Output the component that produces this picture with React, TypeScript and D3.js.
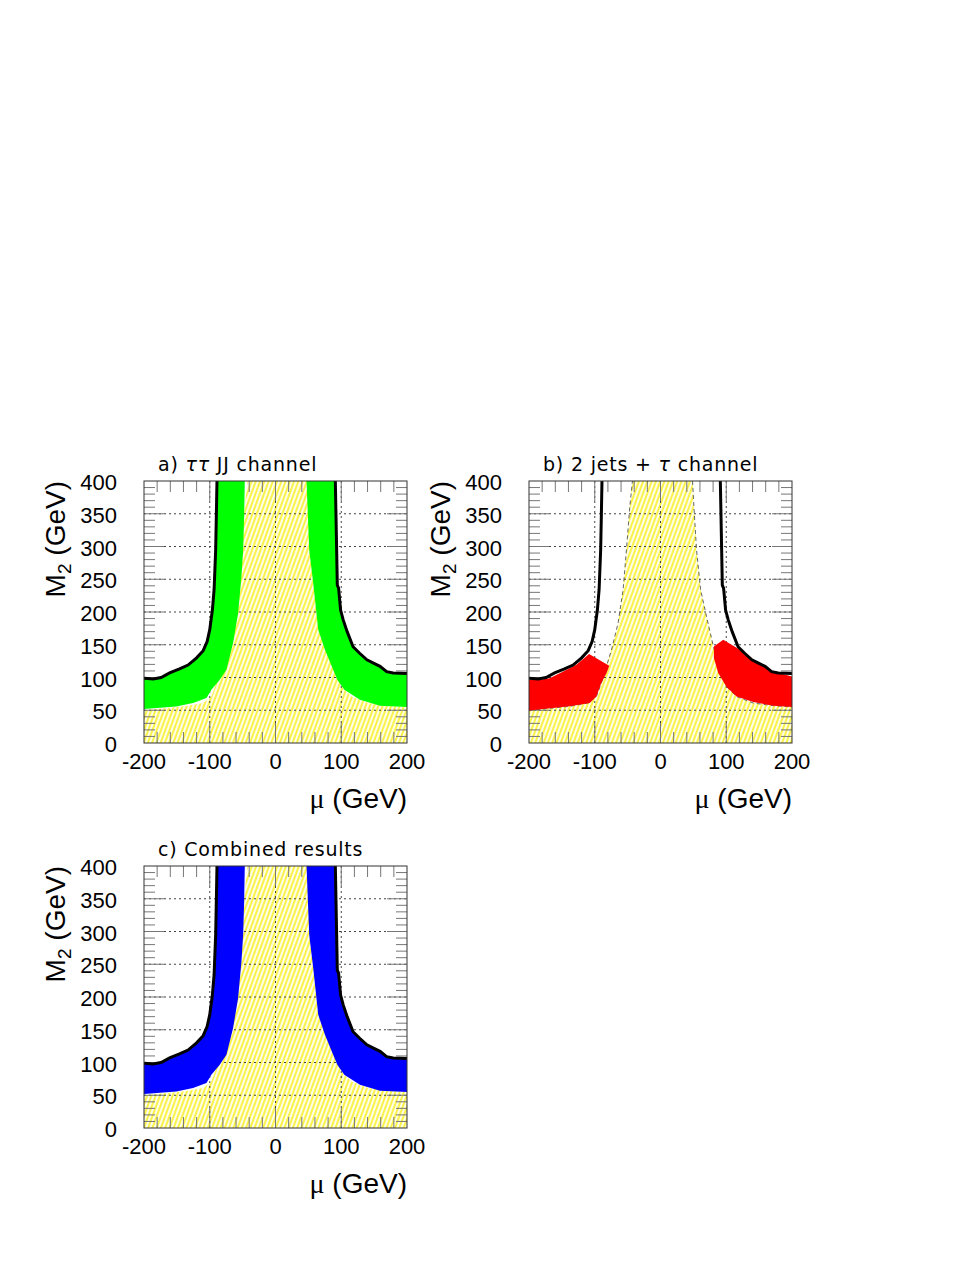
import React from "react";
import * as d3 from "d3";

// axis ranges and tick labels
const muRange: [number, number] = [-200, 200];
const m2Range: [number, number] = [0, 400];
const muLabels = [-200, -100, 0, 100, 200];
const m2Labels = [0, 50, 100, 150, 200, 250, 300, 350, 400];

// black contour (mu, M2)
const contourLeft: [number, number][] = [
  [-200, 99], [-186, 97.6], [-174, 100], [-161, 107], [-146, 113], [-133, 119],
  [-120, 130], [-110, 141], [-104, 155], [-100, 173], [-96, 203], [-93.4, 234],
  [-91, 295], [-90, 346], [-89, 400],
];
const contourRight: [number, number][] = [
  [91, 400], [93, 295], [94, 241], [96, 236], [99, 203], [103, 188], [109, 170],
  [118, 147], [128, 137], [139, 127], [149, 122], [159, 117], [169, 109],
  [179, 107], [200, 106],
];

// inner edge of the excluded band (panels a and c), top -> bottom
const bandInnerLeft: [number, number][] = [
  [-46.7, 400], [-47.7, 345.6], [-49.2, 294.8], [-51.8, 254], [-56.9, 198],
  [-64.5, 152.5], [-74.6, 111.8], [-84.8, 96.6], [-97.5, 81.3], [-105, 68.6],
  [-125.4, 61], [-150.8, 55.9], [-200, 51.8],
];
const bandInnerRight: [number, number][] = [
  [47.2, 400], [51.3, 294.8], [57.4, 244], [65, 172.8], [75.2, 142.3],
  [94, 96.6], [104.6, 81.3], [128.4, 66], [158.9, 57], [200, 55],
];

// LEP1 hatched region boundary
const lepLeft: [number, number][] = [
  [-200, 50], [-138, 56], [-110, 61], [-97.5, 71], [-90, 91.5], [-82.2, 117],
  [-74.6, 142], [-64.5, 183], [-56.9, 234], [-51.8, 295], [-46.7, 361], [-42.6, 400],
];
const lepRight: [number, number][] = [
  [48.7, 400], [50.8, 361], [54.8, 295], [61, 234], [70, 193], [80.6, 147],
  [90.4, 112], [100.5, 86], [115.7, 71], [141, 61], [171.6, 57], [200, 55],
];

// 2 jets + tau excluded pieces
const jetsLeft: [number, number][] = [
  [-200, 96.6], [-183.8, 96.6], [-168.5, 99], [-148, 109], [-128, 119.4],
  [-108.6, 136], [-78, 118], [-82, 106.7], [-90, 91.5], [-97.5, 71],
  [-107.6, 61], [-138, 56], [-200, 49.8],
];
const jetsRight: [number, number][] = [
  [81.2, 147.4], [95.4, 157.6], [120.8, 142.3], [146.2, 122], [171.6, 109.3],
  [200, 101.7], [200, 55], [171.6, 57], [141.1, 62.5], [115.7, 71],
  [100.5, 85.4], [87.8, 106.7], [81.2, 129.6],
];

const W = 263;
const H = 262;
const axisFont = "'Liberation Sans', Arial, sans-serif";
const titleFont = "'DejaVu Sans', sans-serif";

type PanelProps = {
  id: string;
  x0: number;
  y0: number;
  title: React.ReactNode;
  fill: string;
  bands: [number, number][][];
  dashedLep?: boolean;
};

function Panel({ id, x0, y0, title, fill, bands, dashedLep }: PanelProps) {
  const x = d3.scaleLinear().domain(muRange).range([x0, x0 + W]);
  const y = d3.scaleLinear().domain(m2Range).range([y0 + H, y0]);
  const line = d3.line<[number, number]>().x((d) => x(d[0])).y((d) => y(d[1]));
  const poly = (pts: [number, number][]) => line(pts) + "Z";

  const lep: [number, number][] = [[-200, 0], ...lepLeft, ...lepRight, [200, 0]];

  const muMinor = d3.range(-180, 200, 20);
  const m2Minor = d3.range(10, 400, 10);
  const tickCol = "#777";

  return (
    <g>
      <defs>
        <clipPath id={"clip-" + id}>
          <rect x={x0} y={y0} width={W} height={H} />
        </clipPath>
      </defs>
      <g clipPath={`url(#clip-${id})`}>
        <path d={poly(lep)} fill="url(#hatch)" />
        {[-100, 0, 100].map((v) => (
          <line key={"gx" + v} x1={x(v)} x2={x(v)} y1={y0} y2={y0 + H}
            stroke="#444" strokeDasharray="2,3" />
        ))}
        {d3.range(50, 400, 50).map((v) => (
          <line key={"gy" + v} x1={x0} x2={x0 + W} y1={y(v)} y2={y(v)}
            stroke="#444" strokeDasharray="2,3" />
        ))}
        {muMinor.map((v) => {
          const len = v % 100 === 0 ? 20 : 11;
          return (
            <g key={"tx" + v} stroke={tickCol}>
              <line x1={x(v)} x2={x(v)} y1={y0} y2={y0 + len} />
              <line x1={x(v)} x2={x(v)} y1={y0 + H} y2={y0 + H - len} />
            </g>
          );
        })}
        {m2Minor.map((v) => {
          const len = v % 50 === 0 ? 20 : 11;
          return (
            <g key={"ty" + v} stroke={tickCol}>
              <line x1={x0} x2={x0 + len} y1={y(v)} y2={y(v)} />
              <line x1={x0 + W} x2={x0 + W - len} y1={y(v)} y2={y(v)} />
            </g>
          );
        })}
        {dashedLep && (
          <g fill="none" stroke="#555" strokeWidth={0.9} strokeDasharray="4,3">
            <path d={line(lepLeft)!} />
            <path d={line(lepRight)!} />
          </g>
        )}
        {bands.map((b, i) => (
          <path key={i} d={poly(b)} fill={fill} />
        ))}
        <path d={line(contourLeft)!} fill="none" stroke="#000" strokeWidth={3} />
        <path d={line(contourRight)!} fill="none" stroke="#000" strokeWidth={3} />
      </g>
      <rect x={x0} y={y0} width={W} height={H} fill="none" stroke="#333" strokeWidth={1} />

      <text x={x0 + 14} y={y0 - 10} fontFamily={titleFont} fontSize={19}
        letterSpacing={0.8} fill="#000">
        {title}
      </text>

      {m2Labels.map((v) => (
        <text key={"ly" + v} x={x0 - 27} y={y(v) + 9} textAnchor="end"
          fontFamily={axisFont} fontSize={22}>{v}</text>
      ))}
      {muLabels.map((v) => (
        <text key={"lx" + v} x={x(v)} y={y0 + H + 26} textAnchor="middle"
          fontFamily={axisFont} fontSize={22}>{v}</text>
      ))}
      <text x={x0 + W} y={y0 + H + 65} textAnchor="end" fontFamily={axisFont} fontSize={28}>
        <tspan fontFamily="'Liberation Serif', serif">μ</tspan> (GeV)
      </text>
      <text transform={`translate(${x0 - 79},${y0}) rotate(-90)`} textAnchor="end"
        fontFamily={axisFont} fontSize={28}>
        M<tspan fontSize={19} dy={6}>2</tspan><tspan dy={-6}> (GeV)</tspan>
      </text>
    </g>
  );
}

const tau = <tspan fontStyle="italic">τ</tspan>;

export default function App() {
  const bandA = [
    [...contourLeft, ...bandInnerLeft],
    [...contourRight, ...bandInnerRight.slice().reverse()],
  ];
  return (
    <svg width={977} height={1264} style={{ position: "absolute", left: 0, top: 0 }}>
      <defs>
        <pattern id="hatch" patternUnits="userSpaceOnUse" width={4} height={4}
          patternTransform="rotate(20)">
          <rect width={4} height={4} fill="#fffee8" />
          <line x1={1} x2={1} y1={0} y2={4} stroke="#f8f030" strokeWidth={1.7} />
        </pattern>
      </defs>
      <rect width={977} height={1264} fill="#fff" />
      <Panel id="a" x0={144} y0={481} fill="#00ff00" bands={bandA}
        title={<>a) {tau}{tau} JJ channel</>} />
      <Panel id="b" x0={529} y0={481} fill="#ff0000" bands={[jetsLeft, jetsRight]} dashedLep
        title={<>b) 2 jets + {tau} channel</>} />
      <Panel id="c" x0={144} y0={866} fill="#0000ff" bands={bandA}
        title={<>c) Combined results</>} />
    </svg>
  );
}
